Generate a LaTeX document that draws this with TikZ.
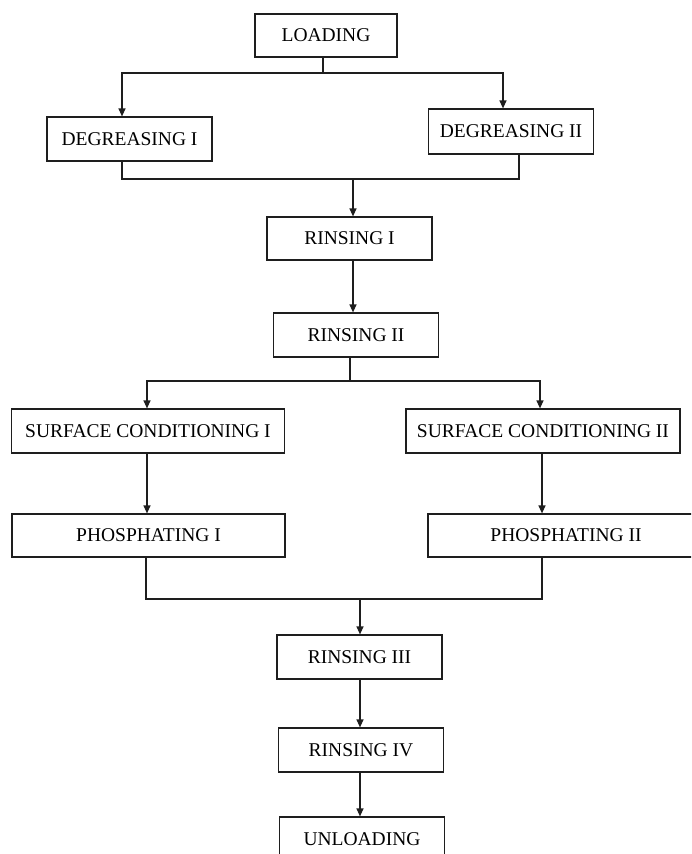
\documentclass[tikz,border=0pt]{standalone}
\usepackage{fontspec}
\setmainfont{Liberation Serif}
\usetikzlibrary{arrows.meta,positioning,calc}
\definecolor{flowink}{RGB}{30,30,30}

\begin{document}
\begin{tikzpicture}[x=1pt,y=-1pt,
    stage/.style={draw=flowink,line width=1.2pt,fill=white,inner sep=0pt,
      minimum width=165pt,minimum height=44pt,
      font=\fontsize{19.5}{22}\selectfont},
    wide/.style={stage,minimum width=273pt},
    flow/.style={draw=flowink,line width=1.2pt},
    flowarrow/.style={flow,-{Triangle[length=8pt,width=7pt]}}]
      \useasboundingbox (0,0) rectangle (691,854);
      \clip (0,0) rectangle (691,854);
      % Loading and the two degreasing tanks
      \node[stage,minimum width=142pt,minimum height=43pt] (load) at (326,35.5) {LOADING};
      \node[stage] (deg1) at (129.5,139) {DEGREASING I};
      \node[stage,minimum height=45pt] (deg2) at (511,131.5) {DEGREASING II};
      % Rinsing I and II
      \node[stage,minimum height=43pt] (rin1) at (349.5,238.5) {RINSING I};
      \node[stage] (rin2) at (356,335) {RINSING II};
      % Surface conditioning and phosphating (two lines)
      \node[wide] (sc1) at (148,431) {SURFACE CONDITIONING I};
      \node[wide,minimum width=274pt] (sc2) at (543,431) {SURFACE CONDITIONING II};
      \node[wide,minimum height=43pt] (ph1) at (148.5,535.5) {PHOSPHATING I};
      \node[wide,minimum width=276pt,minimum height=43pt] (ph2) at (566,535.5) {PHOSPHATING II};
      % Final rinsing and unloading
      \node[stage] (rin3) at (359.5,657) {RINSING III};
      \node[stage] (rin4) at (361,750) {RINSING IV};
      \node[stage] (unload) at (362,839) {UNLOADING};

      % Split after loading
      \coordinate (split1) at (323,73);
      \draw[flow] ([xshift=-3pt]load.south) -- (split1);
      \draw[flowarrow] (split1) -| ([xshift=-7.5pt]deg1.north);
      \draw[flowarrow] (split1) -| ([xshift=-8pt]deg2.north);
      % Merge after degreasing
      \coordinate (merge1) at (353,179);
      \draw[flow] ([xshift=-7.5pt]deg1.south) |- (merge1);
      \draw[flow] ([xshift=8pt]deg2.south) |- (merge1);
      \draw[flowarrow] (merge1) -- (merge1 |- rin1.north);
      \draw[flowarrow] (merge1 |- rin1.south) -- (merge1 |- rin2.north);
      % Split after rinsing II
      \coordinate (split2) at (350,381);
      \draw[flow] (split2 |- rin2.south) -- (split2);
      \draw[flowarrow] (split2) -| ([xshift=-1pt]sc1.north);
      \draw[flowarrow] (split2) -| ([xshift=-3pt]sc2.north);
      \draw[flowarrow] ([xshift=-1pt]sc1.south) -- ([xshift=-1pt]ph1.north -| sc1.south);
      \draw[flowarrow] ([xshift=-1pt]sc2.south) -- ([xshift=-1pt]ph2.north -| sc2.south);
      % Merge after phosphating
      \coordinate (merge2) at (360,599);
      \draw[flow] ([xshift=-2.5pt]ph1.south) |- (merge2);
      \draw[flow] ([xshift=-24pt]ph2.south) |- (merge2);
      \draw[flowarrow] (merge2) -- (merge2 |- rin3.north);
      \draw[flowarrow] (merge2 |- rin3.south) -- (merge2 |- rin4.north);
      \draw[flowarrow] (merge2 |- rin4.south) -- (merge2 |- unload.north);
    \end{tikzpicture}
\end{document}
